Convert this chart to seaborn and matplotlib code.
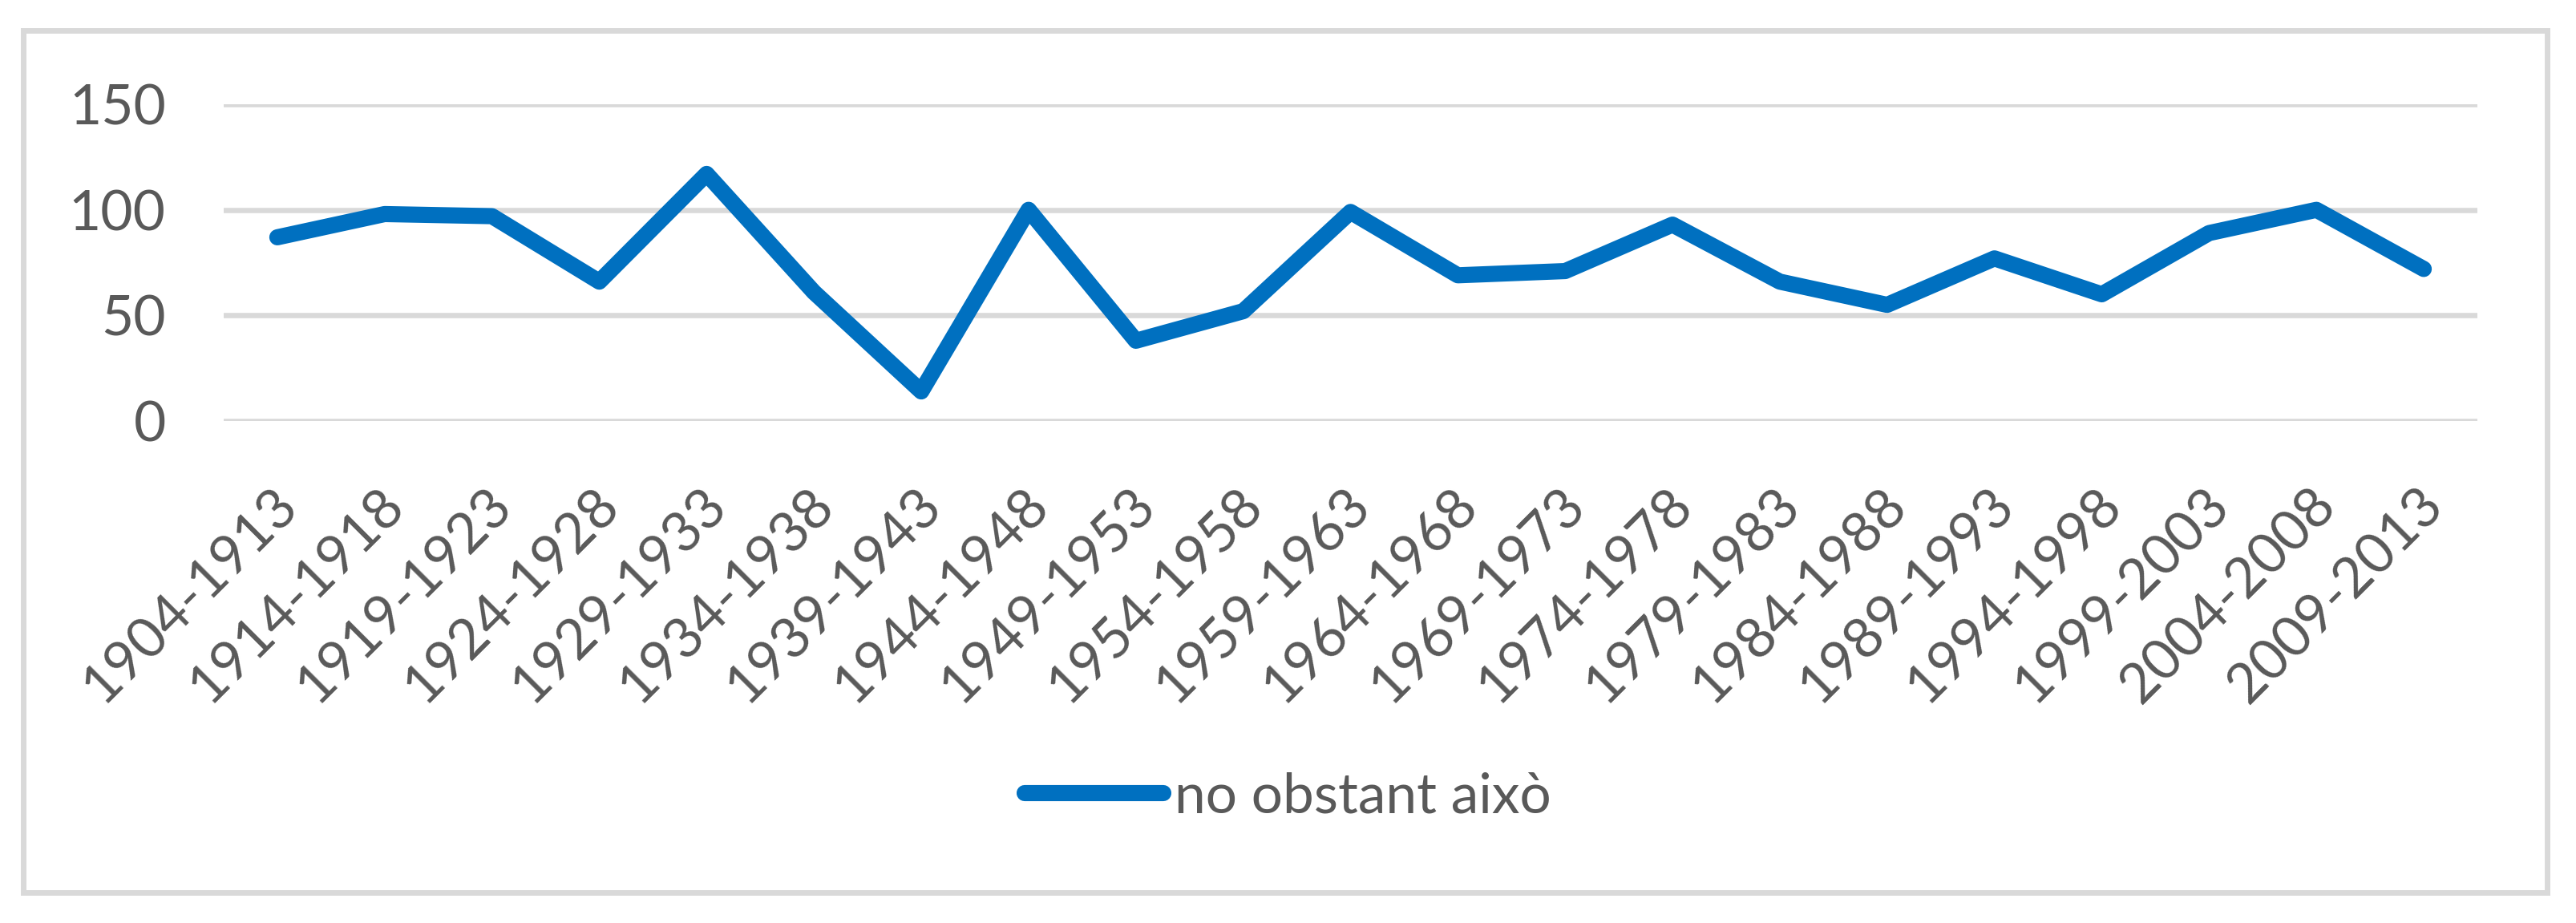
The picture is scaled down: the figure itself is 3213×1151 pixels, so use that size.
import pandas as pd
import matplotlib.pyplot as plt
import matplotlib.transforms as mtransforms
from matplotlib.patches import Rectangle
import seaborn as sns

# periods and values
periodes = ['1904-1913', '1914-1918', '1919-1923', '1924-1928', '1929-1933',
            '1934-1938', '1939-1943', '1944-1948', '1949-1953', '1954-1958',
            '1959-1963', '1964-1968', '1969-1973', '1974-1978', '1979-1983',
            '1984-1988', '1989-1993', '1994-1998', '1999-2003', '2004-2008',
            '2009-2013']
valors = [87, 98, 97, 66, 117, 61, 14, 100, 38, 52, 99, 69, 71, 93, 66,
          55, 77, 60, 89, 100, 72]
serie = 'no obstant això'
y_ticks = [0, 50, 100, 150]

df = pd.DataFrame({'periode': periodes, 'valor': valors})

sns.set_theme(style='white')
plt.rcParams['font.family'] = ['Lato', 'DejaVu Sans']

text_color = '#595959'
grid_color = '#D9D9D9'
line_color = '#0070C0'
dpi = 100

fig = plt.figure(figsize=(3213 / dpi, 1151 / dpi), dpi=dpi)
ax = fig.add_axes([279 / 3213, (1151 - 525) / 1151,
                   (3090 - 279) / 3213, (525 - 130) / 1151])

sns.lineplot(data=df, x='periode', y='valor', sort=False, ax=ax,
             color=line_color, linewidth=14.5, label=serie,
             solid_capstyle='round', solid_joinstyle='round')

ax.set_xlim(-0.5, len(periodes) - 0.5)
ax.set_ylim(0, 150)
ax.set_yticks(y_ticks)
ax.set_yticklabels([str(v) for v in y_ticks])
ax.set_xlabel('')
ax.set_ylabel('')
ax.grid(axis='y', color=grid_color, linewidth=4.7)
ax.grid(axis='x', visible=False)
ax.set_axisbelow(True)
for side in ['top', 'right', 'left', 'bottom']:
    ax.spines[side].set_visible(False)

ax.tick_params(axis='y', length=0, pad=52, labelsize=50, labelcolor=text_color)
ax.tick_params(axis='x', length=0, pad=68, labelsize=50, labelcolor=text_color)
offset = mtransforms.ScaledTranslation(14 / dpi, 0, fig.dpi_scale_trans)
for lbl in ax.get_xticklabels():
    lbl.set_rotation(45)
    lbl.set_ha('right')
    lbl.set_va('center')
    lbl.set_rotation_mode('anchor')
    lbl.set_transform(lbl.get_transform() + offset)

ax.get_legend().remove()
handles, labels = ax.get_legend_handles_labels()
fig.legend(handles, labels, loc='center',
           bbox_to_anchor=(0.5, (1151 - 994) / 1151), frameon=False,
           fontsize=50, labelcolor=text_color, handlelength=2.5,
           handletextpad=0.2)

# chart border
fig.patches.append(Rectangle((29 / 3213, (1151 - 1113) / 1151),
                             (3177 - 29) / 3213, (1113 - 38) / 1151,
                             transform=fig.transFigure, fill=False,
                             edgecolor=grid_color, linewidth=5))

fig.savefig('out.png', dpi=dpi, facecolor='white')
